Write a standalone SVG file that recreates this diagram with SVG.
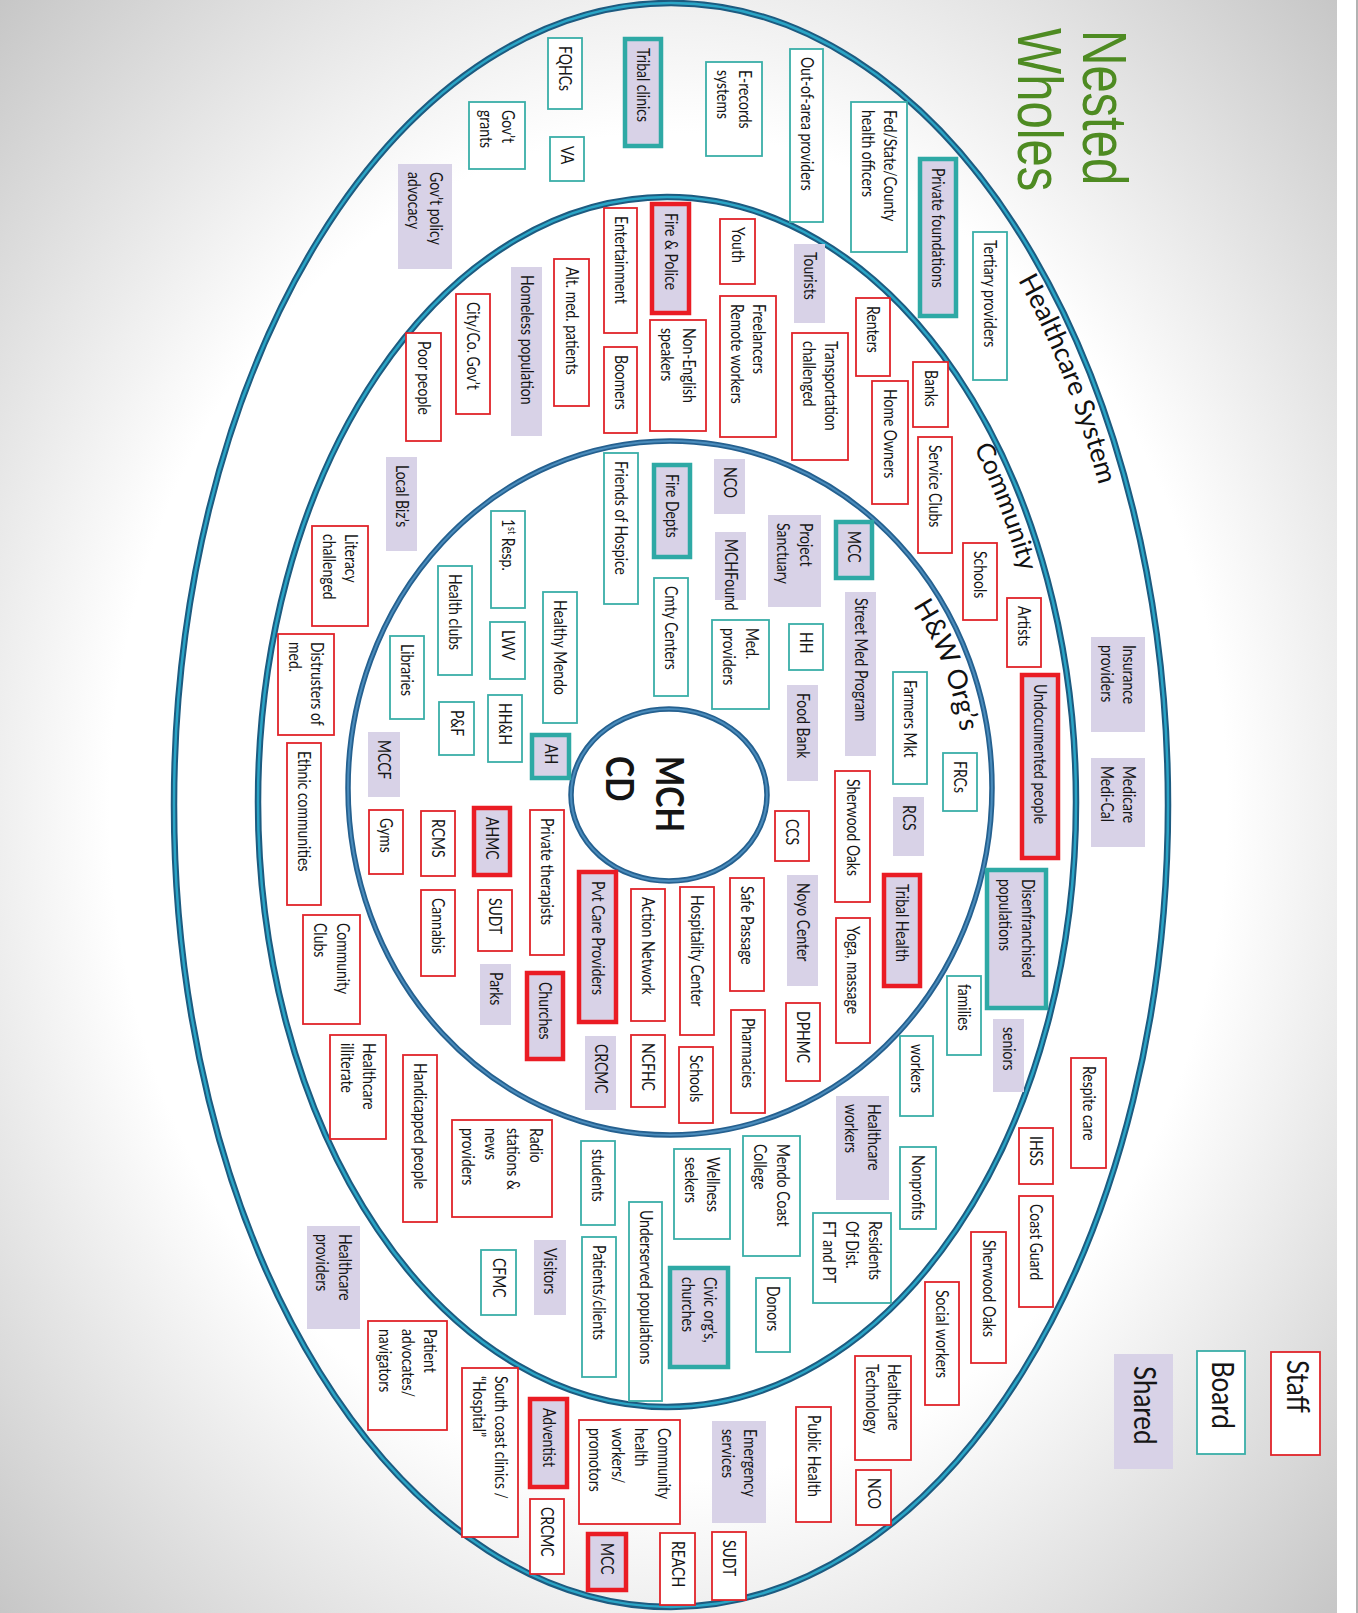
<svg xmlns="http://www.w3.org/2000/svg" width="1358" height="1613" viewBox="0 0 1358 1613">
<style>
.s{fill:#fff;stroke:#e0242a;stroke-width:1.8}
.b{fill:#fff;stroke:#3aaea8;stroke-width:1.8}
.h{fill:#d8d2e7}
.sh{fill:#d8d2e7;stroke:#ea1c24;stroke-width:4.5}
.bh{fill:#d8d2e7;stroke:#2ea9a5;stroke-width:4.5}
.t{font-family:Lato,"Liberation Sans",sans-serif;font-size:14px;fill:#161616}
.lg{font-family:Lato,"Liberation Sans",sans-serif;font-size:26px;fill:#161616}
.ring{font-family:Lato,"Liberation Sans",sans-serif;fill:#111}
.title{font-family:"Liberation Sans",Arial,sans-serif;font-size:49px;fill:#4e8b22}
.mch{font-family:Lato,"Liberation Sans",sans-serif;font-size:32px;font-weight:bold;fill:#151515}
.eo{fill:none;stroke:#1d5b80;stroke-width:6.5}
.ei{fill:none;stroke:#2aa5c6;stroke-width:2.5}
.fo{fill:none;stroke:#25608f;stroke-width:5.5}
.fi{fill:none;stroke:#4a8cbc;stroke-width:2}
</style>
<defs>
<radialGradient id="bg" cx="0.5" cy="0.5" r="0.72">
<stop offset="0" stop-color="#fff"/>
<stop offset="0.58" stop-color="#fff"/>
<stop offset="1" stop-color="#c4c4c4"/>
</radialGradient>
<path id="p-hc" d="M 1018,280 A 468 773 0 0 1 1139,805"/>
<path id="p-com" d="M 974,448 A 382 577 0 0 1 1049,802"/>
<path id="p-hw" d="M 913,606 A 295 320 0 0 1 965,788"/>
</defs>
<rect x="0" y="0" width="1358" height="1613" fill="#fff"/>
<rect x="0" y="0" width="1337" height="1613" fill="url(#bg)"/>
<line x1="1357" y1="0" x2="1357" y2="1613" stroke="#999" stroke-width="1.5"/>

<g id="rings">
<ellipse class="eo" cx="671" cy="805" rx="497" ry="802"/>
<ellipse class="ei" cx="671" cy="805" rx="497" ry="802"/>
<ellipse class="eo" cx="667" cy="802" rx="409" ry="605"/>
<ellipse class="ei" cx="667" cy="802" rx="409" ry="605"/>
<ellipse class="fo" cx="670" cy="788" rx="322" ry="347"/>
<ellipse class="fi" cx="670" cy="788" rx="322" ry="347"/>
<ellipse class="fo" cx="669" cy="795" rx="98" ry="86"/>
<ellipse class="fi" cx="669" cy="795" rx="98" ry="86"/>
<text class="ring" font-size="27"><textPath href="#p-hc">Healthcare System</textPath></text>
<text class="ring" font-size="26"><textPath href="#p-com">Community</textPath></text>
<text class="ring" font-size="27"><textPath href="#p-hw">H&amp;W Org’s</textPath></text>
</g>

<g id="title">
<text class="title" transform="translate(1083,30) rotate(90) scale(1,1.28)">Nested</text>
<text class="title" transform="translate(1018,28) rotate(90) scale(1,1.28)">Wholes</text>
</g>

<g id="n-mchcd">
<text class="mch" transform="translate(656,756) rotate(90) scale(1,1.2)">MCH</text>
<text class="mch" transform="translate(606,756) rotate(90) scale(1,1.2)">CD</text>
</g>

<g id="connectors"/>

<!-- Healthcare System ring -->
<g id="n-fqhcs"><rect class="b" x="548" y="38" width="34" height="71"/><text class="t" transform="translate(559,46) rotate(90) scale(1,1.25)">FQHCs</text></g>
<g id="n-tribal-clinics"><rect class="bh" x="625" y="39" width="36" height="107"/><text class="t" transform="translate(637,48) rotate(90) scale(1,1.25)">Tribal clinics</text></g>
<g id="n-erecords"><rect class="b" x="706" y="62" width="56" height="94"/><text class="t" transform="translate(739.4,70) rotate(90) scale(1,1.25)"><tspan x="0">E-records</tspan><tspan x="0" dy="18.2">systems</tspan></text></g>
<g id="n-out-of-area"><rect class="b" x="790" y="49" width="33" height="173"/><text class="t" transform="translate(800.5,57) rotate(90) scale(1,1.25)">Out-of-area providers</text></g>
<g id="n-fed"><rect class="b" x="851" y="102" width="56" height="150"/><text class="t" transform="translate(884.4,110) rotate(90) scale(1,1.25)"><tspan x="0">Fed/State/County</tspan><tspan x="0" dy="18.2">health officers</tspan></text></g>
<g id="n-private-foundations"><rect class="bh" x="920" y="159" width="36" height="157"/><text class="t" transform="translate(932,168) rotate(90) scale(1,1.25)">Private foundations</text></g>
<g id="n-tertiary"><rect class="b" x="973" y="232" width="34" height="148"/><text class="t" transform="translate(984,240) rotate(90) scale(1,1.25)">Tertiary providers</text></g>
<g id="n-govt-grants"><rect class="b" x="469" y="102" width="56" height="67"/><text class="t" transform="translate(502.4,110) rotate(90) scale(1,1.25)"><tspan x="0">Gov’t</tspan><tspan x="0" dy="18.2">grants</tspan></text></g>
<g id="n-va"><rect class="b" x="550" y="137" width="34" height="44"/><text class="t" transform="translate(561,146) rotate(90) scale(1,1.25)">VA</text></g>
<g id="n-govt-policy"><rect class="h" x="398" y="164" width="54" height="105"/><text class="t" transform="translate(430.4,172) rotate(90) scale(1,1.25)"><tspan x="0">Gov’t policy</tspan><tspan x="0" dy="18.2">advocacy</tspan></text></g>
<g id="n-insurance"><rect class="h" x="1091" y="637" width="54" height="95"/><text class="t" transform="translate(1123.4,645) rotate(90) scale(1,1.25)"><tspan x="0">Insurance</tspan><tspan x="0" dy="18.2">providers</tspan></text></g>
<g id="n-medicare"><rect class="h" x="1091" y="758" width="54" height="89"/><text class="t" transform="translate(1123.4,766) rotate(90) scale(1,1.25)"><tspan x="0">Medicare</tspan><tspan x="0" dy="18.2">Medi-Cal</tspan></text></g>
<g id="n-respite"><rect class="s" x="1071" y="1058" width="35" height="110"/><text class="t" transform="translate(1082.5,1066) rotate(90) scale(1,1.25)">Respite care</text></g>
<g id="n-ihss"><rect class="s" x="1019" y="1128" width="34" height="56"/><text class="t" transform="translate(1030,1136) rotate(90) scale(1,1.25)">IHSS</text></g>
<g id="n-coast-guard"><rect class="s" x="1019" y="1196" width="34" height="111"/><text class="t" transform="translate(1030,1204) rotate(90) scale(1,1.25)">Coast Guard</text></g>
<g id="n-sherwood-oaks-2"><rect class="s" x="971" y="1232" width="35" height="131"/><text class="t" transform="translate(982.5,1240) rotate(90) scale(1,1.25)">Sherwood Oaks</text></g>
<g id="n-social-workers"><rect class="s" x="925" y="1282" width="34" height="123"/><text class="t" transform="translate(936,1290) rotate(90) scale(1,1.25)">Social workers</text></g>
<g id="n-hc-tech"><rect class="s" x="855" y="1356" width="56" height="104"/><text class="t" transform="translate(888.4,1364) rotate(90) scale(1,1.25)"><tspan x="0">Healthcare</tspan><tspan x="0" dy="18.2">Technology</tspan></text></g>
<g id="n-nco-2"><rect class="s" x="856" y="1470" width="35" height="55"/><text class="t" transform="translate(867.5,1478) rotate(90) scale(1,1.25)">NCO</text></g>
<g id="n-public-health"><rect class="s" x="796" y="1407" width="35" height="115"/><text class="t" transform="translate(807.5,1415) rotate(90) scale(1,1.25)">Public Health</text></g>
<g id="n-emergency"><rect class="h" x="712" y="1421" width="54" height="102"/><text class="t" transform="translate(744.4,1429) rotate(90) scale(1,1.25)"><tspan x="0">Emergency</tspan><tspan x="0" dy="18.2">services</tspan></text></g>
<g id="n-sudt-2"><rect class="s" x="712" y="1532" width="34" height="68"/><text class="t" transform="translate(723,1540) rotate(90) scale(1,1.25)">SUDT</text></g>
<g id="n-reach"><rect class="s" x="660" y="1533" width="35" height="72"/><text class="t" transform="translate(671.5,1541) rotate(90) scale(1,1.25)">REACH</text></g>
<g id="n-mcc-2"><rect class="sh" x="588" y="1534" width="38" height="56"/><text class="t" transform="translate(601,1543) rotate(90) scale(1,1.25)">MCC</text></g>
<g id="n-chw"><rect class="s" x="579" y="1420" width="101" height="104"/><text class="t" transform="translate(657.7,1428) rotate(90) scale(1,1.25)"><tspan x="0">Community</tspan><tspan x="0" dy="18.2">health</tspan><tspan x="0" dy="18.2">workers/</tspan><tspan x="0" dy="18.2">promotors</tspan></text></g>
<g id="n-adventist"><rect class="sh" x="530" y="1399" width="37" height="88"/><text class="t" transform="translate(542.5,1408) rotate(90) scale(1,1.25)">Adventist</text></g>
<g id="n-crcmc-2"><rect class="s" x="530" y="1499" width="34" height="75"/><text class="t" transform="translate(541,1507) rotate(90) scale(1,1.25)">CRCMC</text></g>
<g id="n-south-coast"><rect class="s" x="462" y="1368" width="56" height="169"/><text class="t" transform="translate(495.4,1376) rotate(90) scale(1,1.25)"><tspan x="0">South coast clinics /</tspan><tspan x="0" dy="18.2">“Hospital”</tspan></text></g>
<g id="n-patient-advocates"><rect class="s" x="368" y="1321" width="79" height="109"/><text class="t" transform="translate(424.3,1329) rotate(90) scale(1,1.25)"><tspan x="0">Patient</tspan><tspan x="0" dy="18.2">advocates/</tspan><tspan x="0" dy="18.2">navigators</tspan></text></g>
<g id="n-hc-providers"><rect class="h" x="307" y="1226" width="53" height="103"/><text class="t" transform="translate(338.9,1234) rotate(90) scale(1,1.25)"><tspan x="0">Healthcare</tspan><tspan x="0" dy="18.2">providers</tspan></text></g>

<!-- Community ring -->
<g id="n-entertainment"><rect class="s" x="604" y="208" width="33" height="125"/><text class="t" transform="translate(614.5,216) rotate(90) scale(1,1.25)">Entertainment</text></g>
<g id="n-fire-police"><rect class="sh" x="652" y="204" width="37" height="109"/><text class="t" transform="translate(664.5,213) rotate(90) scale(1,1.25)">Fire &amp; Police</text></g>
<g id="n-youth"><rect class="s" x="720" y="219" width="35" height="65"/><text class="t" transform="translate(731.5,227) rotate(90) scale(1,1.25)">Youth</text></g>
<g id="n-tourists"><rect class="h" x="794" y="244" width="31" height="79"/><text class="t" transform="translate(803.5,252) rotate(90) scale(1,1.25)">Tourists</text></g>
<g id="n-renters"><rect class="s" x="856" y="298" width="34" height="78"/><text class="t" transform="translate(867,306) rotate(90) scale(1,1.25)">Renters</text></g>
<g id="n-banks"><rect class="s" x="913" y="362" width="35" height="65"/><text class="t" transform="translate(924.5,370) rotate(90) scale(1,1.25)">Banks</text></g>
<g id="n-home-owners"><rect class="s" x="872" y="381" width="36" height="123"/><text class="t" transform="translate(884,389) rotate(90) scale(1,1.25)">Home Owners</text></g>
<g id="n-service-clubs"><rect class="s" x="918" y="437" width="34" height="116"/><text class="t" transform="translate(929,445) rotate(90) scale(1,1.25)">Service Clubs</text></g>
<g id="n-schools-1"><rect class="s" x="963" y="543" width="34" height="77"/><text class="t" transform="translate(974,551) rotate(90) scale(1,1.25)">Schools</text></g>
<g id="n-artists"><rect class="s" x="1007" y="598" width="34" height="69"/><text class="t" transform="translate(1018,606) rotate(90) scale(1,1.25)">Artists</text></g>
<g id="n-undocumented"><rect class="sh" x="1022" y="675" width="36" height="183"/><text class="t" transform="translate(1034,684) rotate(90) scale(1,1.25)">Undocumented people</text></g>
<g id="n-disenfranchised"><rect class="bh" x="987" y="870" width="59" height="138"/><text class="t" transform="translate(1021.9,879) rotate(90) scale(1,1.25)"><tspan x="0">Disenfranchised</tspan><tspan x="0" dy="18.2">populations</tspan></text></g>
<g id="n-families"><rect class="b" x="947" y="976" width="34" height="79"/><text class="t" transform="translate(958,984) rotate(90) scale(1,1.25)">families</text></g>
<g id="n-seniors"><rect class="h" x="993" y="1019" width="31" height="73"/><text class="t" transform="translate(1002.5,1027) rotate(90) scale(1,1.25)">seniors</text></g>
<g id="n-workers"><rect class="b" x="900" y="1036" width="33" height="80"/><text class="t" transform="translate(910.5,1044) rotate(90) scale(1,1.25)">workers</text></g>
<g id="n-nonprofits"><rect class="b" x="900" y="1147" width="36" height="82"/><text class="t" transform="translate(912,1155) rotate(90) scale(1,1.25)">Nonprofits</text></g>
<g id="n-hc-workers"><rect class="h" x="836" y="1096" width="53" height="104"/><text class="t" transform="translate(867.9,1104) rotate(90) scale(1,1.25)"><tspan x="0">Healthcare</tspan><tspan x="0" dy="18.2">workers</tspan></text></g>
<g id="n-residents"><rect class="b" x="813" y="1213" width="78" height="90"/><text class="t" transform="translate(868.8,1221) rotate(90) scale(1,1.25)"><tspan x="0">Residents</tspan><tspan x="0" dy="18.2">Of Dist.</tspan><tspan x="0" dy="18.2">FT and PT</tspan></text></g>
<g id="n-mendo-college"><rect class="b" x="743" y="1136" width="57" height="120"/><text class="t" transform="translate(776.9,1144) rotate(90) scale(1,1.25)"><tspan x="0">Mendo Coast</tspan><tspan x="0" dy="18.2">College</tspan></text></g>
<g id="n-donors"><rect class="b" x="756" y="1278" width="34" height="74"/><text class="t" transform="translate(767,1286) rotate(90) scale(1,1.25)">Donors</text></g>
<g id="n-wellness"><rect class="b" x="674" y="1149" width="56" height="90"/><text class="t" transform="translate(707.4,1157) rotate(90) scale(1,1.25)"><tspan x="0">Wellness</tspan><tspan x="0" dy="18.2">seekers</tspan></text></g>
<g id="n-civic"><rect class="bh" x="670" y="1268" width="58" height="99"/><text class="t" transform="translate(704.4,1277) rotate(90) scale(1,1.25)"><tspan x="0">Civic org’s,</tspan><tspan x="0" dy="18.2">churches</tspan></text></g>
<g id="n-underserved"><rect class="b" x="629" y="1202" width="33" height="199"/><text class="t" transform="translate(639.5,1210) rotate(90) scale(1,1.25)">Underserved populations</text></g>
<g id="n-students"><rect class="b" x="581" y="1141" width="34" height="84"/><text class="t" transform="translate(592,1149) rotate(90) scale(1,1.25)">students</text></g>
<g id="n-patients"><rect class="b" x="582" y="1237" width="34" height="140"/><text class="t" transform="translate(593,1245) rotate(90) scale(1,1.25)">Patients/clients</text></g>
<g id="n-visitors"><rect class="h" x="534" y="1240" width="32" height="75"/><text class="t" transform="translate(544,1248) rotate(90) scale(1,1.25)">Visitors</text></g>
<g id="n-cfmc"><rect class="b" x="481" y="1250" width="35" height="65"/><text class="t" transform="translate(492.5,1258) rotate(90) scale(1,1.25)">CFMC</text></g>
<g id="n-radio"><rect class="s" x="452" y="1120" width="100" height="97"/><text class="t" transform="translate(530.2,1128) rotate(90) scale(1,1.25)"><tspan x="0">Radio</tspan><tspan x="0" dy="18.2">stations &amp;</tspan><tspan x="0" dy="18.2">news</tspan><tspan x="0" dy="18.2">providers</tspan></text></g>
<g id="n-handicapped"><rect class="s" x="403" y="1055" width="34" height="167"/><text class="t" transform="translate(414,1063) rotate(90) scale(1,1.25)">Handicapped people</text></g>
<g id="n-hc-illiterate"><rect class="s" x="330" y="1035" width="56" height="104"/><text class="t" transform="translate(363.4,1043) rotate(90) scale(1,1.25)"><tspan x="0">Healthcare</tspan><tspan x="0" dy="18.2">illiterate</tspan></text></g>
<g id="n-community-clubs"><rect class="s" x="303" y="915" width="57" height="109"/><text class="t" transform="translate(336.9,923) rotate(90) scale(1,1.25)"><tspan x="0">Community</tspan><tspan x="0" dy="18.2">Clubs</tspan></text></g>
<g id="n-ethnic"><rect class="s" x="287" y="743" width="34" height="162"/><text class="t" transform="translate(298,751) rotate(90) scale(1,1.25)">Ethnic communities</text></g>
<g id="n-distrusters"><rect class="s" x="278" y="634" width="56" height="101"/><text class="t" transform="translate(311.4,642) rotate(90) scale(1,1.25)"><tspan x="0">Distrusters of</tspan><tspan x="0" dy="18.2">med.</tspan></text></g>
<g id="n-literacy"><rect class="s" x="312" y="526" width="56" height="100"/><text class="t" transform="translate(345.4,534) rotate(90) scale(1,1.25)"><tspan x="0">Literacy</tspan><tspan x="0" dy="18.2">challenged</tspan></text></g>
<g id="n-local-biz"><rect class="h" x="386" y="457" width="31" height="94"/><text class="t" transform="translate(395.5,465) rotate(90) scale(1,1.25)">Local Biz’s</text></g>
<g id="n-poor"><rect class="s" x="406" y="333" width="35" height="108"/><text class="t" transform="translate(417.5,341) rotate(90) scale(1,1.25)">Poor people</text></g>
<g id="n-city-gov"><rect class="s" x="456" y="294" width="34" height="120"/><text class="t" transform="translate(467,302) rotate(90) scale(1,1.25)">City/Co. Gov’t</text></g>
<g id="n-homeless"><rect class="h" x="511" y="267" width="31" height="169"/><text class="t" transform="translate(520.5,275) rotate(90) scale(1,1.25)">Homeless population</text></g>
<g id="n-alt-med"><rect class="s" x="554" y="259" width="35" height="147"/><text class="t" transform="translate(565.5,267) rotate(90) scale(1,1.25)">Alt. med. patients</text></g>
<g id="n-boomers"><rect class="s" x="604" y="347" width="33" height="86"/><text class="t" transform="translate(614.5,355) rotate(90) scale(1,1.25)">Boomers</text></g>
<g id="n-non-english"><rect class="s" x="650" y="320" width="56" height="111"/><text class="t" transform="translate(683.4,328) rotate(90) scale(1,1.25)"><tspan x="0">Non-English</tspan><tspan x="0" dy="18.2">speakers</tspan></text></g>
<g id="n-freelancers"><rect class="s" x="720" y="296" width="56" height="141"/><text class="t" transform="translate(753.4,304) rotate(90) scale(1,1.25)"><tspan x="0">Freelancers</tspan><tspan x="0" dy="18.2">Remote workers</tspan></text></g>
<g id="n-transportation"><rect class="s" x="792" y="333" width="56" height="127"/><text class="t" transform="translate(825.4,341) rotate(90) scale(1,1.25)"><tspan x="0">Transportation</tspan><tspan x="0" dy="18.2">challenged</tspan></text></g>

<!-- H&W Org's ring -->
<g id="n-friends-hospice"><rect class="b" x="604" y="453" width="34" height="151"/><text class="t" transform="translate(615,461) rotate(90) scale(1,1.25)">Friends of Hospice</text></g>
<g id="n-fire-depts"><rect class="bh" x="654" y="465" width="36" height="92"/><text class="t" transform="translate(666,474) rotate(90) scale(1,1.25)">Fire Depts</text></g>
<g id="n-nco-1"><rect class="h" x="714" y="459" width="31" height="55"/><text class="t" transform="translate(723.5,467) rotate(90) scale(1,1.25)">NCO</text></g>
<g id="n-mchfound"><rect class="h" x="715" y="532" width="31" height="68"/><text class="t" transform="translate(724.5,539) rotate(90) scale(1,1.25)">MCHFound</text></g>
<g id="n-project-sanctuary"><rect class="h" x="768" y="515" width="53" height="92"/><text class="t" transform="translate(799.9,523) rotate(90) scale(1,1.25)"><tspan x="0">Project</tspan><tspan x="0" dy="18.2">Sanctuary</tspan></text></g>
<g id="n-mcc-1"><rect class="bh" x="836" y="522" width="36" height="56"/><text class="t" transform="translate(848,531) rotate(90) scale(1,1.25)">MCC</text></g>
<g id="n-street-med"><rect class="h" x="845" y="592" width="31" height="164"/><text class="t" transform="translate(854.5,598) rotate(90) scale(1,1.25)">Street Med Program</text></g>
<g id="n-hh"><rect class="b" x="789" y="624" width="34" height="46"/><text class="t" transform="translate(800,632) rotate(90) scale(1,1.25)">HH</text></g>
<g id="n-food-bank"><rect class="h" x="787" y="685" width="31" height="96"/><text class="t" transform="translate(796.5,693) rotate(90) scale(1,1.25)">Food Bank</text></g>
<g id="n-med-providers"><rect class="b" x="712" y="620" width="57" height="89"/><text class="t" transform="translate(745.9,628) rotate(90) scale(1,1.25)"><tspan x="0">Med.</tspan><tspan x="0" dy="18.2">providers</tspan></text></g>
<g id="n-cmty-centers"><rect class="b" x="654" y="578" width="34" height="118"/><text class="t" transform="translate(665,586) rotate(90) scale(1,1.25)">Cmty Centers</text></g>
<g id="n-1st-resp"><rect class="b" x="491" y="511" width="34" height="97"/><text class="t" transform="translate(502,519) rotate(90) scale(1,1.25)">1<tspan font-size="9" dy="-5">st</tspan><tspan dy="5"> Resp.</tspan></text></g>
<g id="n-healthy-mendo"><rect class="b" x="543" y="592" width="34" height="131"/><text class="t" transform="translate(554,600) rotate(90) scale(1,1.25)">Healthy Mendo</text></g>
<g id="n-lwv"><rect class="b" x="490" y="622" width="35" height="57"/><text class="t" transform="translate(501.5,630) rotate(90) scale(1,1.25)">LWV</text></g>
<g id="n-hhh"><rect class="b" x="488" y="695" width="34" height="67"/><text class="t" transform="translate(499,703) rotate(90) scale(1,1.25)">HH&amp;H</text></g>
<g id="n-ah"><rect class="bh" x="532" y="735" width="37" height="43"/><text class="t" transform="translate(544.5,744) rotate(90) scale(1,1.25)">AH</text></g>
<g id="n-health-clubs"><rect class="b" x="438" y="566" width="34" height="109"/><text class="t" transform="translate(449,574) rotate(90) scale(1,1.25)">Health clubs</text></g>
<g id="n-libraries"><rect class="b" x="390" y="636" width="34" height="83"/><text class="t" transform="translate(401,644) rotate(90) scale(1,1.25)">Libraries</text></g>
<g id="n-pf"><rect class="b" x="439" y="702" width="35" height="53"/><text class="t" transform="translate(450.5,710) rotate(90) scale(1,1.25)">P&amp;F</text></g>
<g id="n-mccf"><rect class="h" x="368" y="732" width="32" height="65"/><text class="t" transform="translate(378,740) rotate(90) scale(1,1.25)">MCCF</text></g>
<g id="n-gyms"><rect class="s" x="369" y="810" width="34" height="64"/><text class="t" transform="translate(380,818) rotate(90) scale(1,1.25)">Gyms</text></g>
<g id="n-rcms"><rect class="s" x="421" y="811" width="34" height="65"/><text class="t" transform="translate(432,819) rotate(90) scale(1,1.25)">RCMS</text></g>
<g id="n-cannabis"><rect class="s" x="421" y="890" width="34" height="86"/><text class="t" transform="translate(432,898) rotate(90) scale(1,1.25)">Cannabis</text></g>
<g id="n-ahmc"><rect class="sh" x="474" y="808" width="36" height="67"/><text class="t" transform="translate(486,817) rotate(90) scale(1,1.25)">AHMC</text></g>
<g id="n-sudt-1"><rect class="s" x="478" y="890" width="34" height="61"/><text class="t" transform="translate(489,898) rotate(90) scale(1,1.25)">SUDT</text></g>
<g id="n-parks"><rect class="h" x="480" y="964" width="31" height="61"/><text class="t" transform="translate(489.5,972) rotate(90) scale(1,1.25)">Parks</text></g>
<g id="n-private-therapists"><rect class="s" x="530" y="810" width="34" height="145"/><text class="t" transform="translate(541,818) rotate(90) scale(1,1.25)">Private therapists</text></g>
<g id="n-churches"><rect class="sh" x="527" y="973" width="36" height="86"/><text class="t" transform="translate(539,982) rotate(90) scale(1,1.25)">Churches</text></g>
<g id="n-pvt-care"><rect class="sh" x="579" y="872" width="37" height="150"/><text class="t" transform="translate(591.5,881) rotate(90) scale(1,1.25)">Pvt Care Providers</text></g>
<g id="n-crcmc-1"><rect class="h" x="585" y="1036" width="31" height="74"/><text class="t" transform="translate(594.5,1044) rotate(90) scale(1,1.25)">CRCMC</text></g>
<g id="n-action-network"><rect class="s" x="631" y="889" width="34" height="132"/><text class="t" transform="translate(642,897) rotate(90) scale(1,1.25)">Action Network</text></g>
<g id="n-ncfhc"><rect class="s" x="631" y="1035" width="34" height="72"/><text class="t" transform="translate(642,1043) rotate(90) scale(1,1.25)">NCFHC</text></g>
<g id="n-hospitality"><rect class="s" x="680" y="887" width="34" height="148"/><text class="t" transform="translate(691,895) rotate(90) scale(1,1.25)">Hospitality Center</text></g>
<g id="n-schools-2"><rect class="s" x="679" y="1047" width="34" height="76"/><text class="t" transform="translate(690,1055) rotate(90) scale(1,1.25)">Schools</text></g>
<g id="n-safe-passage"><rect class="s" x="730" y="878" width="34" height="113"/><text class="t" transform="translate(741,886) rotate(90) scale(1,1.25)">Safe Passage</text></g>
<g id="n-pharmacies"><rect class="s" x="731" y="1010" width="34" height="103"/><text class="t" transform="translate(742,1018) rotate(90) scale(1,1.25)">Pharmacies</text></g>
<g id="n-ccs"><rect class="s" x="775" y="811" width="34" height="50"/><text class="t" transform="translate(786,819) rotate(90) scale(1,1.25)">CCS</text></g>
<g id="n-noyo"><rect class="h" x="787" y="875" width="31" height="111"/><text class="t" transform="translate(796.5,883) rotate(90) scale(1,1.25)">Noyo Center</text></g>
<g id="n-dphmc"><rect class="s" x="786" y="1003" width="34" height="78"/><text class="t" transform="translate(797,1011) rotate(90) scale(1,1.25)">DPHMC</text></g>
<g id="n-sherwood-oaks-1"><rect class="s" x="835" y="771" width="35" height="131"/><text class="t" transform="translate(846.5,779) rotate(90) scale(1,1.25)">Sherwood Oaks</text></g>
<g id="n-yoga"><rect class="s" x="836" y="918" width="34" height="125"/><text class="t" transform="translate(847,926) rotate(90) scale(1,1.25)">Yoga, massage</text></g>
<g id="n-tribal-health"><rect class="sh" x="884" y="875" width="36" height="111"/><text class="t" transform="translate(896,884) rotate(90) scale(1,1.25)">Tribal Health</text></g>
<g id="n-rcs"><rect class="h" x="893" y="797" width="31" height="59"/><text class="t" transform="translate(902.5,805) rotate(90) scale(1,1.25)">RCS</text></g>
<g id="n-farmers"><rect class="b" x="893" y="672" width="34" height="112"/><text class="t" transform="translate(904,680) rotate(90) scale(1,1.25)">Farmers Mkt</text></g>
<g id="n-frcs"><rect class="b" x="943" y="753" width="34" height="58"/><text class="t" transform="translate(954,761) rotate(90) scale(1,1.25)">FRCs</text></g>

<!-- Legend -->
<g id="legend-shared"><rect class="h" x="1114" y="1354" width="59" height="115"/><text class="lg" transform="translate(1134,1366) rotate(90) scale(1,1.2)">Shared</text></g>
<g id="legend-board"><rect class="b" x="1197" y="1351" width="48" height="103" stroke-width="2"/><text class="lg" transform="translate(1212,1361) rotate(90) scale(1,1.2)">Board</text></g>
<g id="legend-staff"><rect class="s" x="1271" y="1352" width="49" height="103" stroke-width="2"/><text class="lg" transform="translate(1287,1360) rotate(90) scale(1,1.2)">Staff</text></g>
</svg>
